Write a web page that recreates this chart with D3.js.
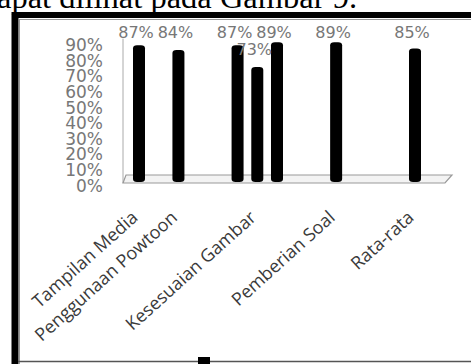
<!DOCTYPE html>
<html>
<head>
<meta charset="utf-8">
<script src="https://cdn.jsdelivr.net/npm/d3@7"></script>
<style>
  html, body { margin: 0; padding: 0; background: #fff; overflow: hidden; }
  svg { display: block; }
</style>
</head>
<body>
<script>
// Category slots along the floor; empty strings are slots without a caption
const categories = [
  "Tampilan Media", "", "Penggunaan Powtoon", "", "", "", "Kesesuaian Gambar",
  "", "", "", "Pemberian Soal", "", "", "", "Rata-rata"
];
// Percentage per slot (null = no bar)
const values = [87, null, 84, null, null, 87, 73, 89, null, null, 89, null, null, null, 85];
// Value axis ticks
const tickValues = [0, 10, 20, 30, 40, 50, 60, 70, 80, 90];
const captionText = "apat dilihat pada Gambar 9.";

const W = 471, H = 364;
const svg = d3.select("body").append("svg").attr("width", W).attr("height", H);

// Caption line of the surrounding document
svg.append("text")
  .attr("x", -3).attr("y", 8)
  .attr("font-family", "'Liberation Serif', 'Times New Roman', serif")
  .attr("font-size", 32.5)
  .attr("fill", "#000")
  .text(captionText);

// Figure frame: heavy top and left edges, thin bottom rule
svg.append("line").attr("x1", 12).attr("x2", W).attr("y1", 15).attr("y2", 15)
  .attr("stroke", "#000").attr("stroke-width", 6);
svg.append("line").attr("x1", 15).attr("x2", 15).attr("y1", 12).attr("y2", H)
  .attr("stroke", "#000").attr("stroke-width", 7);
svg.append("line").attr("x1", 19).attr("x2", W).attr("y1", 19.5).attr("y2", 19.5)
  .attr("stroke", "#999").attr("stroke-width", 1);
svg.append("line").attr("x1", 19.5).attr("x2", 19.5).attr("y1", 19).attr("y2", H)
  .attr("stroke", "#999").attr("stroke-width", 1);
svg.append("line").attr("x1", 18).attr("x2", W).attr("y1", 361.5).attr("y2", 361.5)
  .attr("stroke", "#555").attr("stroke-width", 1.5);
svg.append("rect").attr("x", 198).attr("y", 357).attr("width", 12).attr("height", 7).attr("fill", "#000");

// Scales
const x = d3.scalePoint().domain(d3.range(categories.length)).range([139, 415]);
const y = d3.scaleLinear().domain([0, 90]).range([181, 40.6]);

const plot = svg.append("g");

// Back wall edge
plot.append("line").attr("x1", 123).attr("x2", 123).attr("y1", y(90) - 2).attr("y2", y(0) + 2)
  .attr("stroke", "#aaa").attr("stroke-width", 1);

// Floor (slanted slab)
const fl = 123, fr = 445, fBack = y(0) - 6, fFront = y(0) + 2;
plot.append("path")
  .attr("d", `M${fl},${fFront} L${fr},${fFront} L${fr + 7},${fBack} L${fl + 3},${fBack} Z`)
  .attr("fill", "#f3f3f3").attr("stroke", "#999").attr("stroke-width", 1.2);

// Value axis labels (front face)
plot.append("g").selectAll("text").data(tickValues).join("text")
  .attr("x", 103).attr("y", d => y(d) + 10.5)
  .attr("text-anchor", "end")
  .attr("font-family", "'DejaVu Sans', sans-serif")
  .attr("font-size", 17)
  .attr("fill", "#777")
  .text(d => d + "%");

// Cylindrical bars
const barW = 12;
const bars = values.map((v, i) => ({ i, v })).filter(d => d.v !== null);
plot.append("g").selectAll("rect").data(bars).join("rect")
  .attr("x", d => x(d.i) - barW / 2)
  .attr("y", d => y(d.v))
  .attr("width", barW)
  .attr("height", d => y(0) - y(d.v) + 1)
  .attr("rx", 4).attr("ry", 3)
  .attr("fill", "#000");

// Value labels
plot.append("g").selectAll("text").data(bars).join("text")
  .attr("x", d => x(d.i) - 3)
  .attr("y", d => Math.max(y(d.v) - 12, 38))
  .attr("text-anchor", "middle")
  .attr("font-family", "'DejaVu Sans', sans-serif")
  .attr("font-size", 16)
  .attr("fill", "#777")
  .text(d => d.v + "%");

// Rotated category captions
const cats = categories.map((c, i) => ({ c, i })).filter(d => d.c);
plot.append("g").selectAll("text").data(cats).join("text")
  .attr("transform", d => `translate(${x(d.i) - 9},${209}) rotate(-42)`)
  .attr("text-anchor", "end")
  .attr("dy", "0.75em")
  .attr("font-family", "'Open Sans', sans-serif")
  .attr("font-size", 18)
  .attr("fill", "#3a3a3a")
  .text(d => d.c);
</script>
</body>
</html>
